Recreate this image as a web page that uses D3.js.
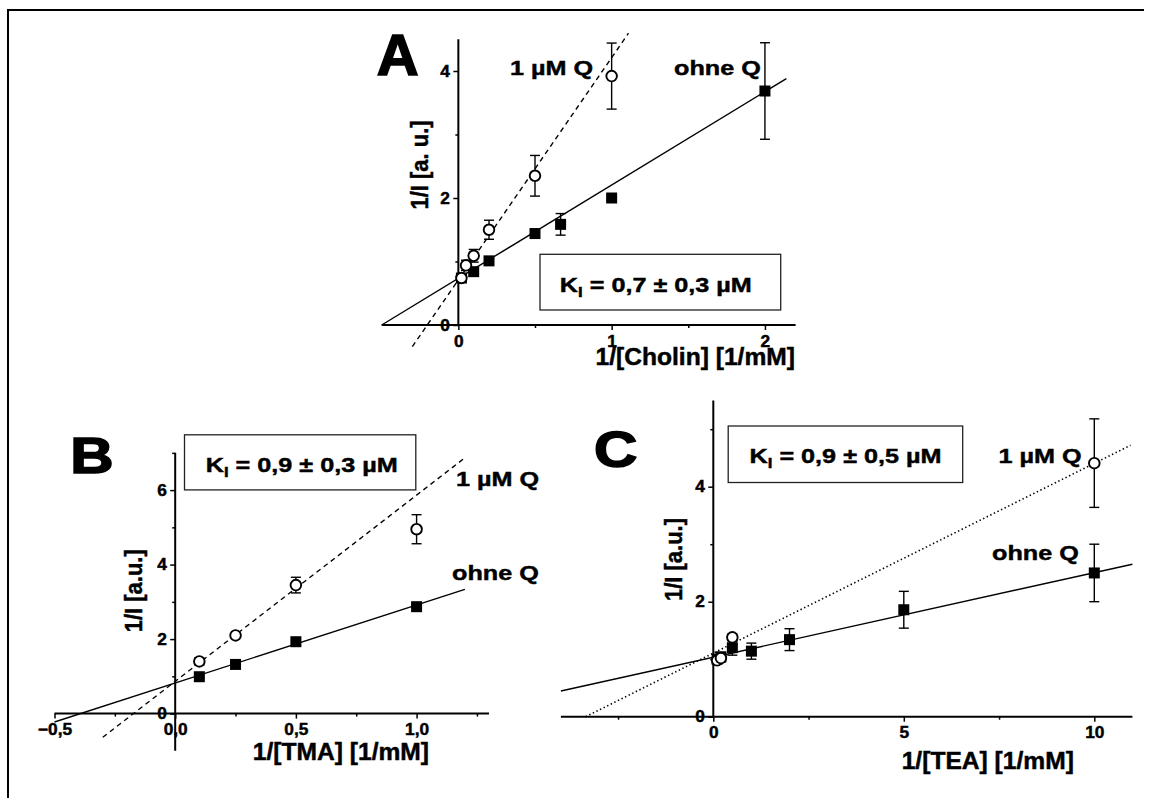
<!DOCTYPE html>
<html>
<head>
<meta charset="utf-8">
<script src="https://cdn.jsdelivr.net/npm/d3@7"></script>
<style>
  body { margin: 0; background: #fff; }
  svg { display: block; }
  text { font-family: "Liberation Sans", Arial, sans-serif; font-weight: bold;
         stroke: #000; stroke-width: 0.45px; }
</style>
</head>
<body>
<script>
// ---- data ----
// A: Cholin
const cholinX_Q = [0.02, 0.05, 0.1, 0.2, 0.5, 1];
const cholinY_Q = [0.74, 0.94, 1.09, 1.50, 2.35, 3.92];
const cholinE_Q = [0.05, 0.08, 0.10, 0.15, 0.32, 0.52];
const cholinX_0 = [0.02, 0.1, 0.2, 0.5, 0.667, 1, 2];
const cholinY_0 = [0.74, 0.84, 1.01, 1.44, 1.585, 2.00, 3.685];
const cholinE_0 = [0.03, 0.03, 0.04, 0.04, 0.17, 0.04, 0.76];
// fits: [intercept, slope, from x, to x]
const cholinFit_0 = [0.735, 1.47, -0.5, 2.14];
const cholinFit_Q = [0.71, 3.50, -0.3, 1.11];
const cholinXTicks = [0, 1, 2], cholinXMinor = [0.5, 1.5];
const cholinYTicks = [0, 2, 4], cholinYMinor = [1, 3];

// B: TMA
const tmaX_Q = [0.1, 0.25, 0.5, 1.0];
const tmaY_Q = [1.40, 2.10, 3.45, 4.95];
const tmaE_Q = [0.10, 0.05, 0.21, 0.39];
const tmaX_0 = [0.1, 0.25, 0.5, 1.0];
const tmaY_0 = [0.99, 1.32, 1.93, 2.87];
const tmaE_0 = [0.04, 0.05, 0.06, 0.05];
const tmaFit_0 = [0.822, 2.094, -0.5, 1.2];
const tmaFit_Q = [0.865, 5.0, -0.3, 1.2];
const tmaXTicks = [-0.5, 0, 0.5, 1.0], tmaXMinor = [-0.25, 0.25, 0.75, 1.25];
const tmaYTicks = [0, 2, 4, 6], tmaYMinor = [1, 3, 5, 7];

// C: TEA
const teaX_Q = [0.1, 0.2, 0.5, 10];
const teaY_Q = [0.98, 1.02, 1.38, 4.41];
const teaE_Q = [0.04, 0.05, 0.06, 0.77];
const teaX_0 = [0.1, 0.2, 0.5, 1, 2, 5, 10];
const teaY_0 = [1.00, 1.04, 1.20, 1.14, 1.34, 1.86, 2.50];
const teaE_0 = [0.05, 0.08, 0.13, 0.14, 0.19, 0.32, 0.50];
const teaFit_0 = [1.035, 0.147, -4, 11];
const teaFit_Q = [1.106, 0.330, -3.35, 10.95];
const teaXTicks = [0, 5, 10], teaXMinor = [-2.5, 2.5, 7.5];
const teaYTicks = [0, 2, 4], teaYMinor = [1, 3, 5];

const W = 1152, H = 798;
const svg = d3.select("body").append("svg").attr("width", W).attr("height", H);
svg.append("rect").attr("width", W).attr("height", H).attr("fill", "#fff");

// frame
svg.append("path").attr("d", "M8,798 V10 H1144").attr("fill", "none")
  .attr("stroke", "#000").attr("stroke-width", 2);

const comma = d3.format(".1f");

// stretched text helper (the figure's type is a little wider than Arial)
function txt(g, str, x, y, size, anchor, sx) {
  return g.append("text")
    .attr("font-size", size)
    .attr("text-anchor", anchor || "start")
    .attr("transform", `translate(${x},${y}) scale(${sx || 1.2},1)`)
    .text(str);
}

function kiText(g, val, cx, y) {
  const t = g.append("text").attr("font-size", 21).attr("text-anchor", "middle")
    .attr("transform", `translate(${cx},${y}) scale(1.2,1)`);
  t.append("tspan").text("K");
  t.append("tspan").attr("font-size", 14).attr("dy", 5).text("I");
  t.append("tspan").attr("dy", -5).text(" = " + val);
}

function drawPanel(p) {
  const g = svg.append("g");
  const x = d3.scaleLinear().domain(p.xDom).range(p.xRange);
  const y = d3.scaleLinear().domain(p.yDom).range(p.yRange);

  // fit lines
  p.fits.forEach(f => {
    const [a, b, x0, x1] = f.v;
    g.append("line")
      .attr("x1", x(x0)).attr("y1", y(a + b * x0))
      .attr("x2", x(x1)).attr("y2", y(a + b * x1))
      .attr("stroke", "#000").attr("stroke-width", f.dash === "1.4,2.6" ? 1.6 : 1.4)
      .attr("stroke-dasharray", f.dash);
  });

  // axes lines
  g.append("line").attr("x1", x(p.xAxis[0])).attr("x2", x(p.xAxis[1]))
    .attr("y1", y(0)).attr("y2", y(0)).attr("stroke", "#000").attr("stroke-width", 2);
  g.append("line").attr("x1", x(0)).attr("x2", x(0))
    .attr("y1", y(p.yAxis[0])).attr("y2", y(p.yAxis[1])).attr("stroke", "#000").attr("stroke-width", 2);

  const gx = g.append("g").attr("transform", `translate(0,${y(0)})`)
    .call(d3.axisBottom(x).tickValues(p.xTicks).tickSize(5).tickSizeOuter(0).tickPadding(5).tickFormat(p.fmt));
  const gxm = g.append("g").attr("transform", `translate(0,${y(0)})`)
    .call(d3.axisBottom(x).tickValues(p.xMinor).tickSize(3).tickSizeOuter(0).tickFormat(""));
  const gy = g.append("g").attr("transform", `translate(${x(0)},0)`)
    .call(d3.axisLeft(y).tickValues(p.yTicks).tickSize(5).tickSizeOuter(0).tickPadding(3).tickFormat(d3.format("d")));
  const gym = g.append("g").attr("transform", `translate(${x(0)},0)`)
    .call(d3.axisLeft(y).tickValues(p.yMinor).tickSize(3).tickSizeOuter(0).tickFormat(""));
  [gx, gxm, gy, gym].forEach(a => {
    a.select(".domain").remove();
    a.attr("font-family", null).attr("font-size", 16.5);
    a.selectAll("line").attr("stroke-width", 1.5);
    a.selectAll("text").attr("font-size", 16.5).attr("fill", "#000")
      .attr("transform", "scale(1.05,1)");
  });

  // error bars + markers
  function series(xs, ys, es, shape) {
    const d = xs.map((v, i) => ({ x: v, y: ys[i], e: es[i] }));
    const eb = g.append("g").attr("stroke", "#000").attr("stroke-width", 1.4);
    d.forEach(o => {
      const cx = x(o.x), t = y(o.y + o.e), b = y(o.y - o.e);
      eb.append("line").attr("x1", cx).attr("x2", cx).attr("y1", t).attr("y2", b);
      eb.append("line").attr("x1", cx - 5).attr("x2", cx + 5).attr("y1", t).attr("y2", t);
      eb.append("line").attr("x1", cx - 5).attr("x2", cx + 5).attr("y1", b).attr("y2", b);
    });
    if (shape === "square") {
      g.selectAll(null).data(d).join("rect")
        .attr("x", o => x(o.x) - 5.5).attr("y", o => y(o.y) - 5.5)
        .attr("width", 11).attr("height", 11).attr("fill", "#000");
    } else {
      g.selectAll(null).data(d).join("circle")
        .attr("cx", o => x(o.x)).attr("cy", o => y(o.y)).attr("r", 5.3)
        .attr("fill", "#fff").attr("stroke", "#000").attr("stroke-width", 1.9);
    }
  }
  series(p.sq[0], p.sq[1], p.sq[2], "square");
  series(p.ci[0], p.ci[1], p.ci[2], "circle");
  return g;
}

// ---- Panel A ----
const gA = drawPanel({
  xDom: [-0.5, 2.2], xRange: [381.7, 795.6],
  yDom: [0, 4.5], yRange: [325, 39.25],
  xAxis: [-0.5, 2.2], yAxis: [0, 4.5],
  xTicks: cholinXTicks, xMinor: cholinXMinor, yTicks: cholinYTicks, yMinor: cholinYMinor,
  fmt: d3.format("d"),
  fits: [{ v: cholinFit_0, dash: null }, { v: cholinFit_Q, dash: "5,4" }],
  sq: [cholinX_0, cholinY_0, cholinE_0], ci: [cholinX_Q, cholinY_Q, cholinE_Q]
});
gA.append("rect").attr("x", 540).attr("y", 254.3).attr("width", 240.7).attr("height", 55.7)
  .attr("fill", "#fff").attr("stroke", "#222").attr("stroke-width", 1.3);
kiText(gA, "0,7 ± 0,3 µM", 655.8, 291.7);
txt(gA, "A", 376.7, 75, 58, "start", 1.0).style("stroke-width", "1.6px");
txt(gA, "1 µM Q", 510, 75, 21);
txt(gA, "ohne Q", 674, 75, 21);
txt(gA, "1/[Cholin] [1/mM]", 595.5, 365, 23, "start", 1.07);
gA.append("text").attr("font-size", 22).attr("text-anchor", "middle")
  .attr("transform", "translate(428,165) rotate(-90) scale(1,1.12)").text("1/I [a. u.]");

// ---- Panel B ----
const gB = drawPanel({
  xDom: [-0.5, 1.3], xRange: [54.5, 489],
  yDom: [-1, 7], yRange: [750.85, 452.85],
  xAxis: [-0.5, 1.3], yAxis: [-1, 7],
  xTicks: tmaXTicks, xMinor: tmaXMinor, yTicks: tmaYTicks, yMinor: tmaYMinor,
  fmt: v => comma(v).replace(".", ","),
  fits: [{ v: tmaFit_0, dash: null }, { v: tmaFit_Q, dash: "5,4" }],
  sq: [tmaX_0, tmaY_0, tmaE_0], ci: [tmaX_Q, tmaY_Q, tmaE_Q]
});
gB.append("rect").attr("x", 184.5).attr("y", 434.8).attr("width", 231.3).attr("height", 55.1)
  .attr("fill", "#fff").attr("stroke", "#222").attr("stroke-width", 1.3);
kiText(gB, "0,9 ± 0,3 µM", 301.7, 471.5);
txt(gB, "B", 70.3, 473, 50, "start", 1.2).style("stroke-width", "1.6px");
txt(gB, "1 µM Q", 456, 486, 21);
txt(gB, "ohne Q", 452, 580, 21);
txt(gB, "1/[TMA] [1/mM]", 252.8, 760.4, 23, "start", 1.07);
gB.append("text").attr("font-size", 22).attr("text-anchor", "middle")
  .attr("transform", "translate(142,590.8) rotate(-90) scale(1,1.12)").text("1/I [a.u.]");

// ---- Panel C ----
const gC = drawPanel({
  xDom: [-4, 11], xRange: [560.9, 1132.4],
  yDom: [0, 5.5], yRange: [716.7, 400.45],
  xAxis: [-4, 11], yAxis: [0, 5.5],
  xTicks: teaXTicks, xMinor: teaXMinor, yTicks: teaYTicks, yMinor: teaYMinor,
  fmt: d3.format("d"),
  fits: [{ v: teaFit_0, dash: null }, { v: teaFit_Q, dash: "1.4,2.6" }],
  sq: [teaX_0, teaY_0, teaE_0], ci: [teaX_Q, teaY_Q, teaE_Q]
});
gC.append("rect").attr("x", 728.2).attr("y", 426).attr("width", 234.5).attr("height", 56.5)
  .attr("fill", "#fff").attr("stroke", "#222").attr("stroke-width", 1.3);
kiText(gC, "0,9 ± 0,5 µM", 845.5, 462.5);
txt(gC, "C", 594, 466.6, 50, "start", 1.2).style("stroke-width", "1.6px");
txt(gC, "1 µM Q", 998.5, 462.5, 21);
txt(gC, "ohne Q", 992, 559.5, 21);
txt(gC, "1/[TEA] [1/mM]", 901.7, 769, 23, "start", 1.07);
gC.append("text").attr("font-size", 22).attr("text-anchor", "middle")
  .attr("transform", "translate(682,559.5) rotate(-90) scale(1,1.12)").text("1/I [a.u.]");
</script>
</body>
</html>
